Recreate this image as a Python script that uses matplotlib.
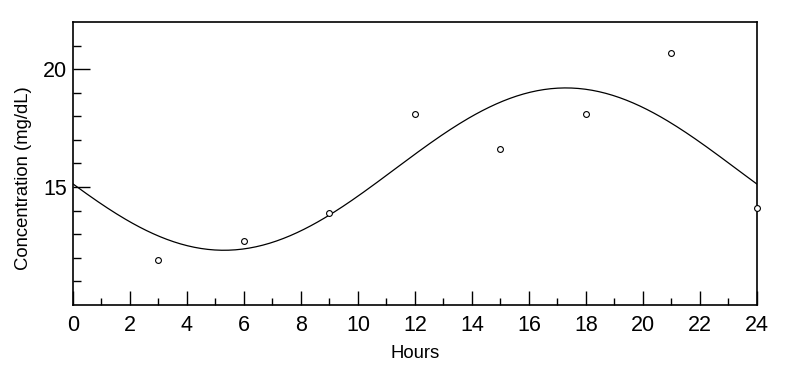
import numpy as np
import matplotlib
matplotlib.use("Agg")
import matplotlib.pyplot as plt

plt.rcParams['font.family'] = ['Liberation Sans', 'DejaVu Sans']

# observed concentrations
hours = [3, 6, 9, 12, 15, 18, 21, 24]
conc = [11.9, 12.7, 13.9, 18.1, 16.6, 18.1, 20.7, 14.1]
period = 24.0

# cosinor fit (least squares) of the observations
t = np.array(hours, dtype=float)
w = 2 * np.pi / period
X = np.column_stack([np.ones_like(t), np.cos(w * t), np.sin(w * t)])
coef, *_ = np.linalg.lstsq(X, np.array(conc), rcond=None)
tt = np.linspace(0, 24, 300)
fit = coef[0] + coef[1] * np.cos(w * tt) + coef[2] * np.sin(w * tt)

fig = plt.figure(figsize=(7.85, 3.72), dpi=100)
ax = fig.add_axes([0.093, 0.180, 0.871, 0.761])

ax.plot(tt, fit, color='black', lw=0.9)
ax.plot(hours, conc, 'o', ms=4.2, mfc='white', mec='black', mew=0.8, clip_on=False, zorder=5)

ax.set_xlim(0, 24)
ax.set_ylim(10, 22)
ax.set_xticks(np.arange(0, 25, 2))
ax.set_xticks(np.arange(1, 24, 2), minor=True)
ax.set_yticks([15, 20])
ax.set_yticks([11, 12, 13, 14, 16, 17, 18, 19, 21], minor=True)

ax.tick_params(axis='x', which='major', direction='in', length=10, width=1, labelsize=15.5, pad=7)
ax.tick_params(axis='x', which='minor', direction='in', length=5, width=1)
ax.tick_params(axis='y', which='major', direction='in', length=12.5, width=1, labelsize=15.5, pad=4)
ax.tick_params(axis='y', which='minor', direction='in', length=6, width=1)

for s in ax.spines.values():
    s.set_linewidth(1.2)

ax.set_xlabel('Hours', fontsize=13.3, labelpad=7)
ax.set_ylabel('Concentration (mg/dL)', fontsize=13.3)
ax.yaxis.set_label_coords(-0.060, 0.449)

fig.savefig('out.png', dpi=100)
